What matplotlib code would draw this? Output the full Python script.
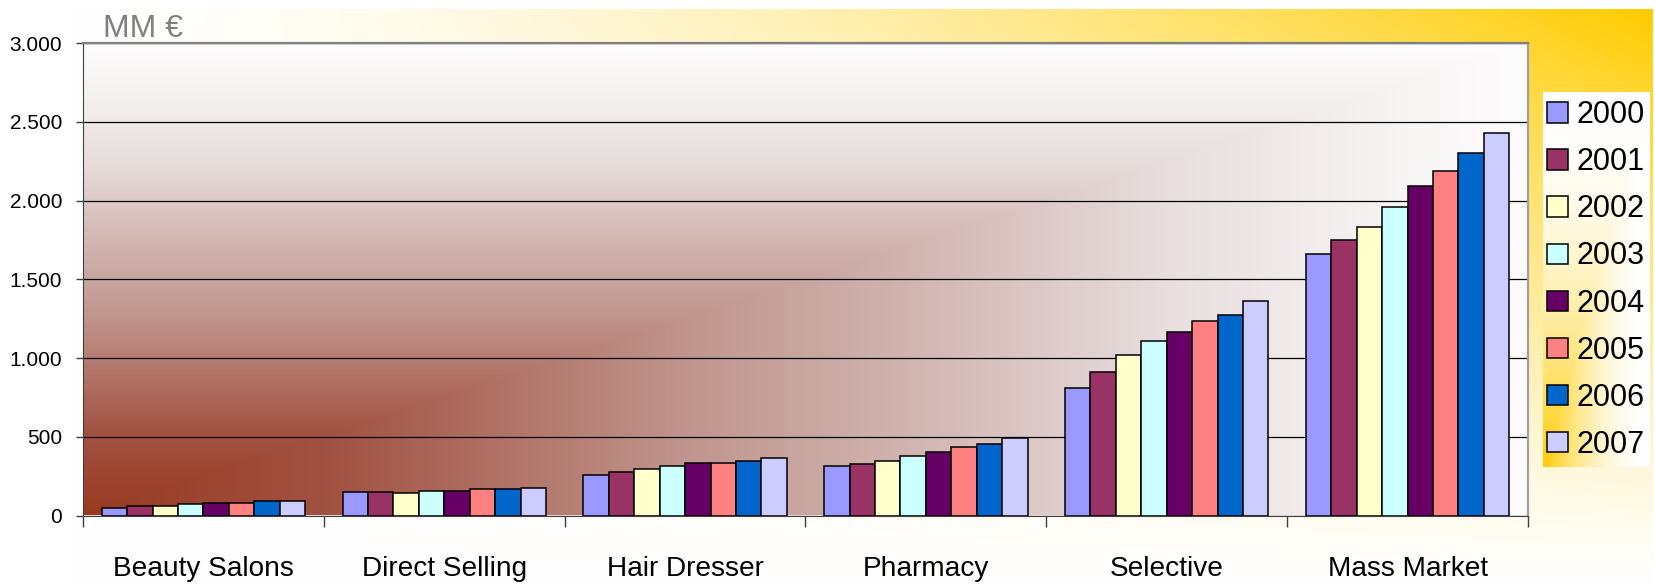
import numpy as np
import matplotlib.pyplot as plt
from matplotlib.colors import LinearSegmentedColormap

plt.rcParams['font.family'] = ['Liberation Sans', 'DejaVu Sans']

# data (MM €)
categories = ['Beauty Salons', 'Direct Selling', 'Hair Dresser', 'Pharmacy', 'Selective', 'Mass Market']
years = ['2000', '2001', '2002', '2003', '2004', '2005', '2006', '2007']
sales_2000 = [50, 147, 257, 317, 812, 1661]
sales_2001 = [60, 147, 276, 325, 910, 1750]
sales_2002 = [58, 145, 297, 346, 1018, 1833]
sales_2003 = [71, 158, 317, 376, 1109, 1958]
sales_2004 = [81, 158, 336, 405, 1168, 2095]
sales_2005 = [79, 168, 334, 435, 1238, 2187]
sales_2006 = [90, 168, 344, 452, 1274, 2305]
sales_2007 = [90, 177, 367, 494, 1365, 2432]
series = [sales_2000, sales_2001, sales_2002, sales_2003,
          sales_2004, sales_2005, sales_2006, sales_2007]
colors = ['#9999FF', '#993366', '#FFFFCC', '#CCFFFF',
          '#660066', '#FF8080', '#0066CC', '#CCCCFF']

W, H = 1655, 585
fig = plt.figure(figsize=(W / 100, H / 100), dpi=100)
fig.patch.set_facecolor('white')

# background layer: gold gradient from the top right corner
bg = fig.add_axes([0, 0, 1, 1], zorder=-10)
bg.axis('off')
gold = np.array([255, 204, 0]) / 255
xx, yy = np.meshgrid(np.linspace(0, 1, 500), np.linspace(0, 1, 250))
d = xx ** 1.6 * (1 - yy) ** 1.2
bg.imshow(1 - d[..., None] * (1 - gold), extent=(67, 1653, 585, 9),
          aspect='auto', interpolation='bilinear')

# legend box gradient (gold in bottom-left corner)
d2 = (1 - np.maximum(xx, 1 - yy)) ** 2
bg.imshow(1 - d2[..., None] * (1 - gold), extent=(1543, 1650, 467, 92),
          aspect='auto', interpolation='bilinear')
bg.set_xlim(0, W)
bg.set_ylim(H, 0)

# plot area
ax = fig.add_axes([83 / W, 69.5 / H, 1445 / W, 472.2 / H])
ax.set_facecolor('none')

rust = LinearSegmentedColormap.from_list('rust', [
    (0.0, (253 / 255, 252 / 255, 252 / 255)),
    (0.08, (248 / 255, 245 / 255, 245 / 255)),
    (0.25, (232 / 255, 222 / 255, 222 / 255)),
    (0.42, (210 / 255, 182 / 255, 178 / 255)),
    (0.58, (192 / 255, 150 / 255, 142 / 255)),
    (0.83, (162 / 255, 82 / 255, 66 / 255)),
    (1.0, (152 / 255, 58 / 255, 34 / 255)),
])
gx, gy = np.meshgrid(np.linspace(0, 1, 600), np.linspace(0, 1, 300))
shade = 1 - np.maximum(gx, gy)
ax.imshow(shade, cmap=rust, vmin=0, vmax=1, origin='lower',
          extent=(-0.5, 5.5, 0, 3000), aspect='auto', zorder=0,
          interpolation='bilinear')

x = np.arange(len(categories))
bw = 0.1056
bars = []
for i, vals in enumerate(series):
    b = ax.bar(x + (i - 3.5) * bw, vals, bw, color=colors[i],
               edgecolor='black', linewidth=1.1, zorder=3, label=years[i])
    bars.append(b)

ax.set_xlim(-0.5, 5.5)
ax.set_ylim(0, 3000)
ax.set_axisbelow(True)
ax.set_yticks(range(0, 3001, 500))
ax.set_yticklabels([f"{v:,}".replace(',', '.') for v in range(0, 3001, 500)])
ax.yaxis.grid(True, color='black', linewidth=0.9)
ax.tick_params(axis='y', length=5, width=1, color='#404040', pad=10, labelsize=15)

ax.set_xticks(np.arange(-0.5, 6, 1))
ax.set_xticklabels([])
ax.set_xticks(x, minor=True)
ax.set_xticklabels(categories, minor=True)
ax.tick_params(axis='x', which='major', length=8, width=1, color='#404040')
ax.tick_params(axis='x', which='minor', length=0, pad=29, labelsize=20.2)

ax.spines['top'].set_color('#808080')
ax.spines['top'].set_linewidth(1.6)
ax.spines['right'].set_color('#a0a0a0')
ax.spines['right'].set_linewidth(1.6)
ax.spines['left'].set_color('#404040')
ax.spines['bottom'].set_color('#404040')

fig.text(103 / W, 1 - 37 / H, 'MM €', fontsize=23, color='#808080', va='baseline')

fig.legend(handles=bars, labels=years, loc='center',
           bbox_to_anchor=(1596 / W, 1 - 280 / H), frameon=False,
           fontsize=22, labelspacing=0.56, handlelength=0.69,
           handleheight=0.65, handletextpad=0.3)

fig.savefig('out.png', dpi=100)
